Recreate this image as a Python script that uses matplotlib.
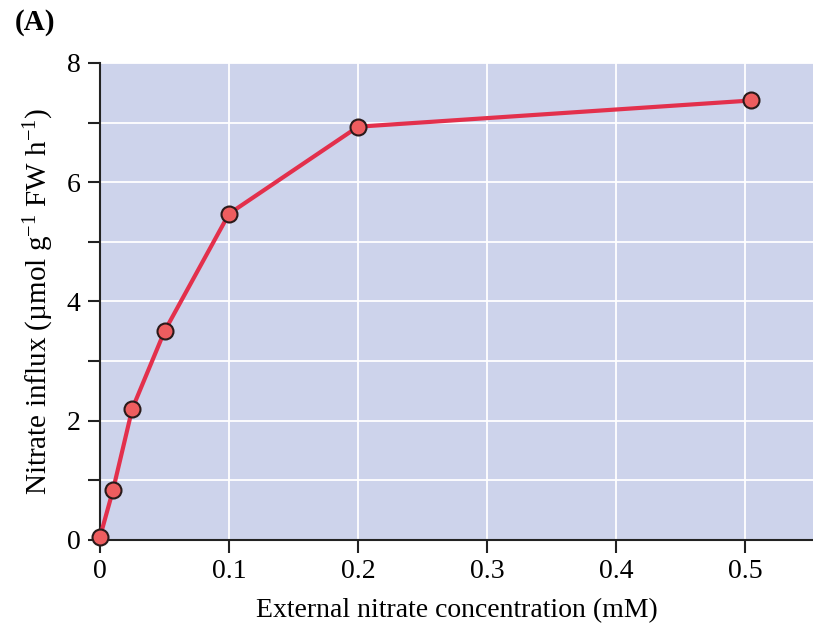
import matplotlib
matplotlib.use("Agg")
import matplotlib.pyplot as plt
from matplotlib.ticker import MultipleLocator

plt.rcParams["font.family"] = "Liberation Serif"
plt.rcParams["mathtext.fontset"] = "custom"
plt.rcParams["mathtext.rm"] = "Liberation Serif"
plt.rcParams["mathtext.it"] = "Liberation Serif:italic"

# data
conc_mM = [0.0, 0.01, 0.025, 0.05, 0.1, 0.2, 0.505]
influx = [0.05, 0.83, 2.2, 3.5, 5.47, 6.93, 7.37]
x_ticks = [0, 0.1, 0.2, 0.3, 0.4, 0.5]
x_labels = ["0", "0.1", "0.2", "0.3", "0.4", "0.5"]
y_ticks = [0, 2, 4, 6, 8]

fig = plt.figure(figsize=(8.13, 6.29), dpi=100)
ax = fig.add_axes([0.123, 0.1415, 0.877, 0.7585])
ax.set_facecolor("#cdd3eb")

ax.plot(conc_mM, influx, color="#e3304c", lw=3, zorder=3,
        marker="o", ms=11.5, mfc="#ee5d5f", mec="#2a1a1a", mew=1.5,
        clip_on=False)

ax.set_xlim(0, 0.5527)
ax.set_ylim(0, 8)
ax.set_xticks(x_ticks)
ax.set_xticklabels(x_labels)
ax.set_yticks(y_ticks)
ax.yaxis.set_minor_locator(MultipleLocator(1))

ax.grid(True, which="major", color="white", lw=1.3)
ax.grid(True, which="minor", axis="y", color="white", lw=1.3)
ax.set_axisbelow(True)

for s in ["top", "right"]:
    ax.spines[s].set_visible(False)
for s in ["left", "bottom"]:
    ax.spines[s].set_linewidth(1.5)
    ax.spines[s].set_color("#222222")

ax.tick_params(which="both", direction="out", length=9, width=1.5,
               color="#222222", labelsize=20, pad=5)

ax.set_xlabel("External nitrate concentration (mM)", fontsize=20, labelpad=10)
ax.set_ylabel(r"Nitrate influx (µmol g$^{-1}$ FW h$^{-1}$)", fontsize=21, labelpad=8)

fig.text(0.018, 0.965, "(A)", fontsize=21, fontweight="bold", va="center")

fig.savefig("out.png", dpi=100)
plt.close(fig)
